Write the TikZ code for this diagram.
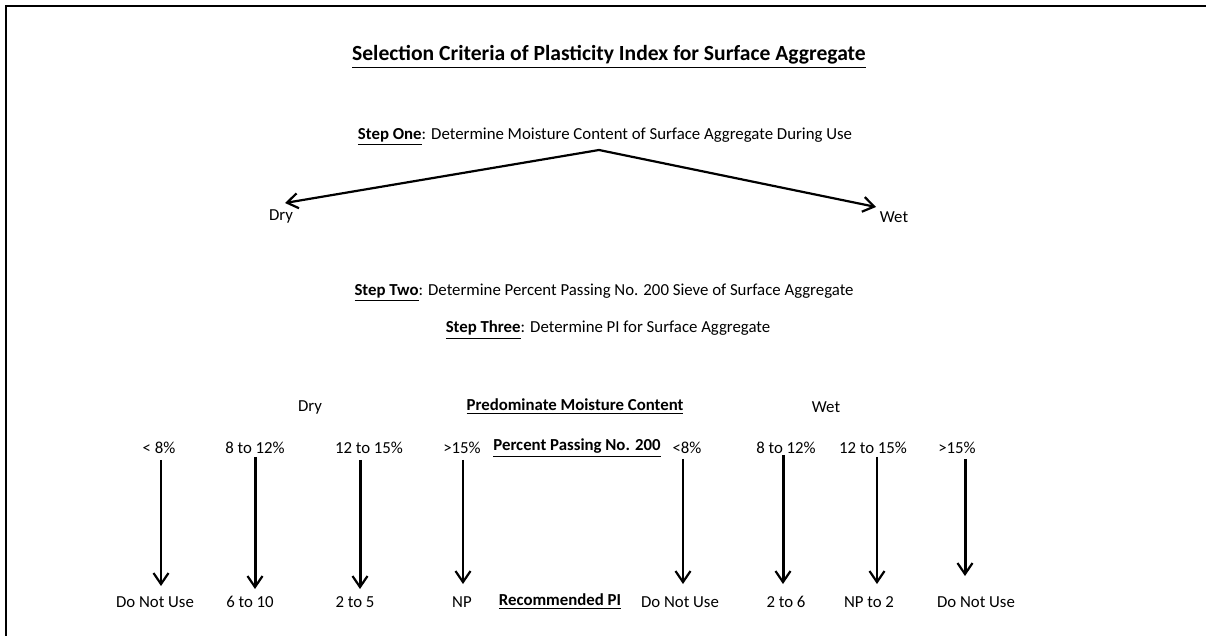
\documentclass[tikz,border=0pt]{standalone}
\usepackage{fontspec}
\setmainfont{Carlito}
\usetikzlibrary{arrows.meta}
\begin{document}
\begin{tikzpicture}[x=0.5pt,y=-0.5pt,
  txt/.style={inner sep=0pt,anchor=center,font=\fontsize{8.4}{10}\selectfont},
  ttl/.style={inner sep=0pt,anchor=center,font=\fontsize{10.8}{13}\selectfont\bfseries},
  arr/.style={line width=1.1pt,-{Straight Barb[length=5.5pt,width=7.5pt,line width=1.1pt]}},
  arrb/.style={arr,line width=1.5pt},
  frame/.style={line width=1.2pt}]
\useasboundingbox (0,0) rectangle (1206,636);
% frame (top and left edges)
\draw[frame] (6,636) -- (6,6) -- (1206,6);
% title
\node[ttl] (title) at (609,57) {\underline{Selection Criteria of Plasticity Index for Surface Aggregate}};
% step one
\node[txt] (s1) at (605,137) {\textbf{\underline{Step One}}: Determine Moisture Content of Surface Aggregate During Use};
\coordinate (apex) at (599,150);
\coordinate (dryt) at (285,203);
\coordinate (wett) at (876,207);
\node[txt] (dry1) at (281,216) {Dry};
\node[txt] (wet1) at (894,217) {Wet};
\draw[arr] (apex) -- (dryt);
\draw[arr] (apex) -- (wett);
% steps two / three
\node[txt] (s2) at (604,293) {\textbf{\underline{Step Two}}: Determine Percent Passing No. 200 Sieve of Surface Aggregate};
\node[txt] (s3) at (608,330) {\textbf{\underline{Step Three}}: Determine PI for Surface Aggregate};
% headers
\node[txt] (dry2) at (310,407) {Dry};
\node[txt] (pmc) at (575,407) {\textbf{\underline{Predominate Moisture Content}}};
\node[txt] (wet2) at (826,407) {Wet};
% percent row
\node[txt] (p1) at (159,448) {< 8\%};
\node[txt] (p2) at (255,448) {8 to 12\%};
\node[txt] (p3) at (369,448) {12 to 15\%};
\node[txt] (p4) at (462,448) {>15\%};
\node[txt] (ppn) at (577,448) {\textbf{\underline{Percent Passing No. 200}}};
\node[txt] (p5) at (687,448) {<8\%};
\node[txt] (p6) at (786,448) {8 to 12\%};
\node[txt] (p7) at (873,448) {12 to 15\%};
\node[txt] (p8) at (957,448) {>15\%};
% result row
\node[txt] (r1) at (155,602) {Do Not Use};
\node[txt] (r2) at (250,602) {6 to 10};
\node[txt] (r3) at (355,602) {2 to 5};
\node[txt] (r4) at (462,602) {NP};
\node[txt] (rpi) at (560,602) {\textbf{\underline{Recommended PI}}};
\node[txt] (r5) at (680,602) {Do Not Use};
\node[txt] (r6) at (786,602) {2 to 6};
\node[txt] (r7) at (869,602) {NP to 2};
\node[txt] (r8) at (976,602) {Do Not Use};
% arrow endpoints
\coordinate (a1s) at (161,460); \coordinate (a1e) at (161,586);
\coordinate (a2s) at (255,457); \coordinate (a2e) at (255,589);
\coordinate (a3s) at (360,460); \coordinate (a3e) at (360,589);
\coordinate (a4s) at (463,460); \coordinate (a4e) at (463,584);
\coordinate (a5s) at (683,459); \coordinate (a5e) at (683,584);
\coordinate (a6s) at (783,455); \coordinate (a6e) at (783,584);
\coordinate (a7s) at (877,457); \coordinate (a7e) at (877,584);
\coordinate (a8s) at (965,459); \coordinate (a8e) at (965,576);
\draw[arr] (a1s) -- (a1e);
\draw[arrb] (a2s) -- (a2e);
\draw[arrb] (a3s) -- (a3e);
\draw[arr] (a4s) -- (a4e);
\draw[arr] (a5s) -- (a5e);
\draw[arrb] (a6s) -- (a6e);
\draw[arr] (a7s) -- (a7e);
\draw[arrb] (a8s) -- (a8e);
\end{tikzpicture}
\end{document}
